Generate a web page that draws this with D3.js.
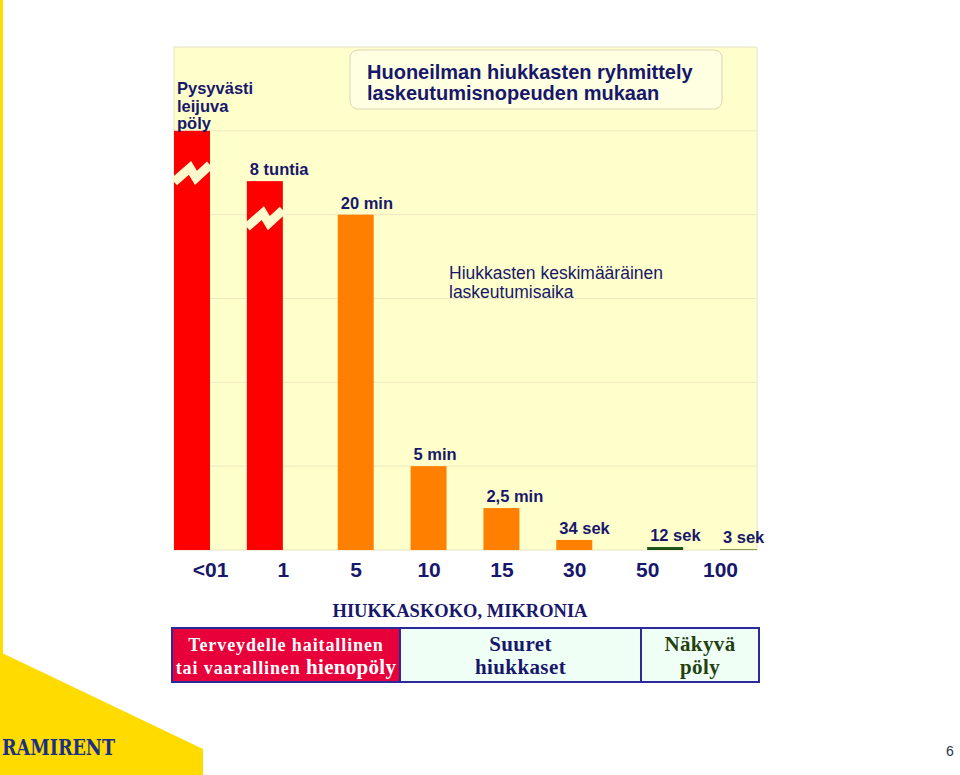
<!DOCTYPE html>
<html><head><meta charset="utf-8">
<script src="https://cdn.jsdelivr.net/npm/d3@7"></script>
<style>body{margin:0;background:#fff}svg{display:block}</style>
</head><body>
<svg id="c" width="960" height="775"></svg>
<script>
// ---- data ----
const categories = ["<01", "1", "5", "10", "15", "30", "50", "100"];
const settleValues = [50, 44, 40, 10, 5, 1.2, 0.35, 0.12];
const valueLabels = ["", "8 tuntia", "20 min", "5 min", "2,5 min", "34 sek", "12 sek", "3 sek"];
const brokenBars = [true, true, false, false, false, false, false, false];
const yTicks = [0, 10, 20, 30, 40, 50, 60];
const firstBarLabel = ["Pysyvästi", "leijuva", "pöly"];
const titleLines = ["Huoneilman hiukkasten ryhmittely", "laskeutumisnopeuden mukaan"];
const noteLines = ["Hiukkasten keskimääräinen", "laskeutumisaika"];
const axisTitle = "HIUKKASKOKO, MIKRONIA";
const tableCells = [
  ["Terveydelle haitallinen", "tai vaarallinen |hienopöly"],
  ["Suuret", "hiukkaset"],
  ["Näkyvä", "pöly"]
];

// ---- styles ----
const barColors = ["#ff0000", "#ff0000", "#ff8000", "#ff8000", "#ff8000", "#ff8000", "#1d4f16", "#8d9a55"];
const navy = "#17176b";
const plotBg = "#ffffcc";
const sans = "Liberation Sans, Arial, sans-serif";
const serif = "Liberation Serif, Times New Roman, serif";

const svg = d3.select("#c");
const L = 174, R = 757, T = 47, B = 550;

// decoration: yellow strip + polygon
svg.append("rect").attr("x", 0).attr("y", 0).attr("width", 3).attr("height", 656).attr("fill", "#ffdd00");
svg.append("polygon").attr("points", "0,652 203,749 203,775 0,775").attr("fill", "#ffdb00");

// plot area
svg.append("rect").attr("x", L).attr("y", T).attr("width", R - L).attr("height", B - T)
  .attr("fill", plotBg).attr("stroke", "#e6e2c6").attr("stroke-width", 1);

const y = d3.scaleLinear().domain([0, 60]).range([B, T]);
const xLab = d3.scalePoint().domain(categories).range([210, 720]);
const barW = 36;

// gridlines
svg.append("g").selectAll("line").data(yTicks.slice(1, -1)).join("line")
  .attr("x1", L).attr("x2", R).attr("y1", d => y(d)).attr("y2", d => y(d))
  .attr("stroke", "#eee8bf").attr("stroke-width", 1);

// bar x: small-particle bars sit left of tick, visible-dust bars right of tick
function barX(i) {
  const shift = i < 2 ? -barW : i > 5 ? 0 : -barW / 2;
  return xLab(categories[i]) + shift;
}

const bars = svg.append("g");
bars.selectAll("rect").data(settleValues).join("rect")
  .attr("x", (d, i) => barX(i))
  .attr("y", d => y(d))
  .attr("width", (d, i) => i === 7 ? R - barX(i) : barW)
  .attr("height", d => B - y(d))
  .attr("fill", (d, i) => barColors[i]);

// break marks
settleValues.forEach((v, i) => {
  if (!brokenBars[i]) return;
  const x0 = barX(i), yc = y(v) + (i === 0 ? 44 : 39);
  const pts = [[x0, yc + 7], [x0 + 16, yc - 7], [x0 + 22, yc + 3], [x0 + barW, yc - 10]];
  svg.append("path").attr("d", d3.line()(pts))
    .attr("fill", "none").attr("stroke", "#fffacd").attr("stroke-width", 9)
    .attr("stroke-linejoin", "miter");
});

// value labels
svg.append("g").selectAll("text").data(valueLabels).join("text")
  .attr("x", (d, i) => barX(i) + 3)
  .attr("y", (d, i) => Math.min(y(settleValues[i]) - 6, 545))
  .attr("font-family", sans)
  .attr("font-weight", "bold").attr("font-size", 16.5).attr("fill", navy)
  .text(d => d);

// first bar label
svg.append("g").selectAll("text").data(firstBarLabel).join("text")
  .attr("x", 177).attr("y", (d, i) => 94 + i * 17.5)
  .attr("font-family", sans)
  .attr("font-weight", "bold").attr("font-size", 16.5).attr("fill", navy)
  .text(d => d);

// title box
svg.append("rect").attr("x", 350).attr("y", 50).attr("width", 372).attr("height", 59).attr("rx", 8)
  .attr("fill", "#ffffe2").attr("stroke", "#d9d4b6").attr("stroke-width", 1);
svg.append("g").selectAll("text").data(titleLines).join("text")
  .attr("x", 367).attr("y", (d, i) => 79 + i * 21)
  .attr("font-family", sans)
  .attr("font-weight", "bold").attr("font-size", 20).attr("fill", navy)
  .text(d => d);

// note
svg.append("g").selectAll("text").data(noteLines).join("text")
  .attr("x", 449).attr("y", (d, i) => 279 + i * 19)
  .attr("font-family", sans)
  .attr("font-size", 17.5).attr("fill", navy)
  .text(d => d);

// x axis labels
const xAxis = d3.axisBottom(xLab).tickSize(0).tickPadding(0);
const gx = svg.append("g").attr("transform", `translate(0,${B})`).call(xAxis);
gx.select(".domain").attr("stroke", "#f2efdc");
gx.selectAll("text").attr("dy", 0).attr("y", 27)
  .attr("font-family", sans)
  .attr("font-weight", "bold").attr("font-size", 21).attr("fill", navy);

// axis title
svg.append("text").attr("x", 460).attr("y", 617).attr("text-anchor", "middle")
  .attr("font-family", serif)
  .attr("font-weight", "bold").attr("font-size", 18.5).attr("fill", navy)
  .text(axisTitle);

// table
const cols = [[172, 400], [400, 641], [641, 759]];
const cellFill = ["#e8003a", "#f0fff6", "#f0fff6"];
const cellText = ["#ffffff", navy, "#263f0e"];
const tT = 628, tB = 682;
cols.forEach((c, i) => {
  svg.append("rect").attr("x", c[0]).attr("y", tT).attr("width", c[1] - c[0]).attr("height", tB - tT)
    .attr("fill", cellFill[i]).attr("stroke", "#2a2a9a").attr("stroke-width", 2);
  tableCells[i].forEach((line, j) => {
    const t = svg.append("text").attr("x", (c[0] + c[1]) / 2)
      .attr("y", i === 0 ? 651 + j * 22.5 : 651 + j * 23)
      .attr("text-anchor", "middle")
      .attr("font-family", serif)
      .attr("font-weight", "bold").attr("fill", cellText[i])
      .attr("font-size", i === 0 ? 18 : 21)
      .attr("letter-spacing", i === 0 ? 0.9 : 0.4);
    const parts = line.split("|");
    t.append("tspan").text(parts[0]);
    if (parts[1]) t.append("tspan").attr("font-size", 21).attr("letter-spacing", 0.3).text(parts[1]);
  });
});

// logo
svg.append("text").attr("x", 2).attr("y", 755)
  .attr("font-family", "DejaVu Serif Condensed, DejaVu Serif, serif")
  .attr("font-weight", "bold").attr("font-size", 23).attr("fill", "#1a2f86")
  .attr("textLength", 113).attr("lengthAdjust", "spacingAndGlyphs")
  .text("RAMIRENT");

// page number
svg.append("text").attr("x", 950).attr("y", 756).attr("text-anchor", "middle")
  .attr("font-family", sans)
  .attr("font-size", 14).attr("fill", "#2b3350").text("6");
</script>
</body></html>
